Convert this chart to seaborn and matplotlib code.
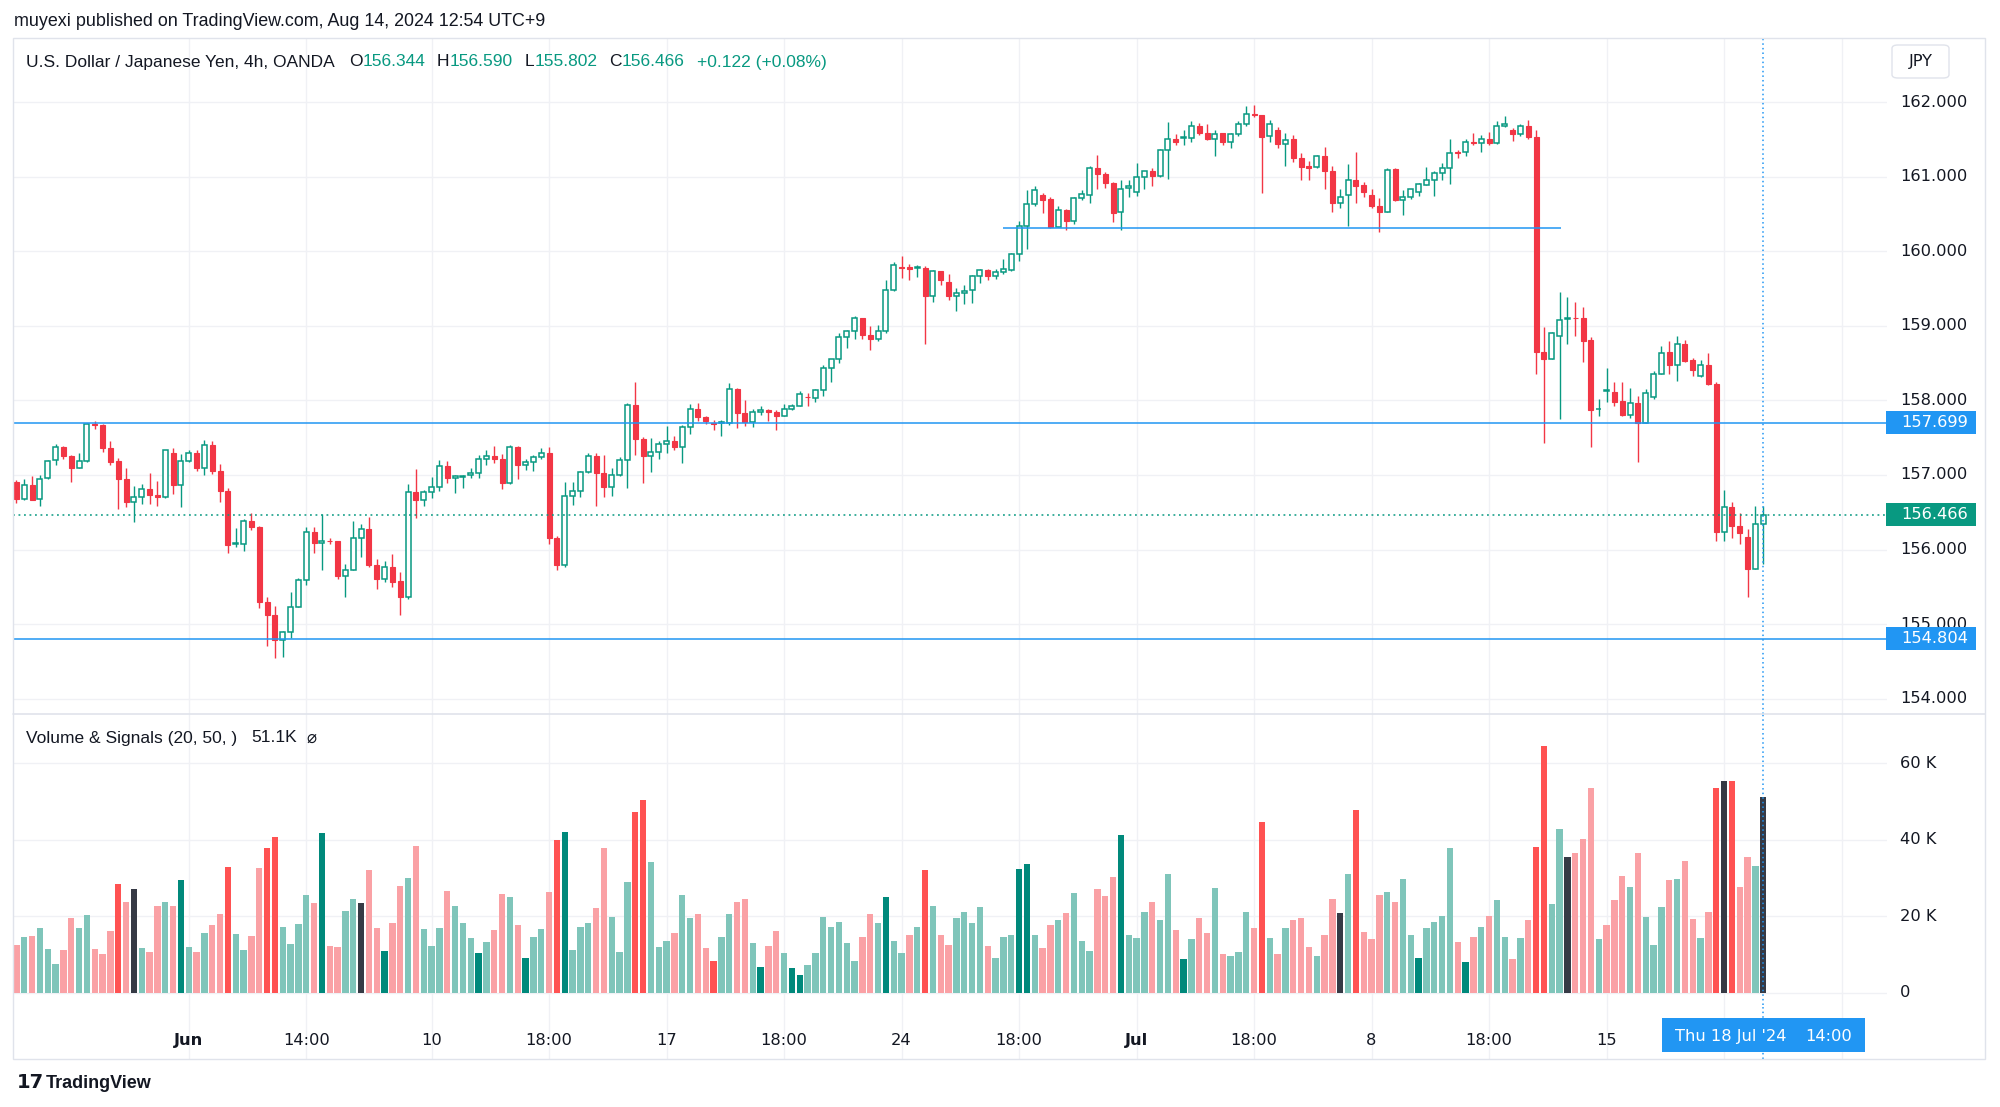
import numpy as np
import pandas as pd
import matplotlib
matplotlib.use("Agg")
import matplotlib.pyplot as plt
import seaborn as sns
from matplotlib.transforms import blended_transform_factory as blend
from matplotlib.patches import Rectangle, FancyBboxPatch
from matplotlib.lines import Line2D

# ------------------------------------------------------------------ data
opens = [
    156.90, 156.68, 156.86, 156.68, 156.96, 157.20, 157.37, 157.26, 157.10, 157.19,
    157.69, 157.67, 157.36, 157.19, 156.94, 156.64, 156.70, 156.81, 156.73, 156.70,
    157.29, 156.86, 157.19, 157.29, 157.09, 157.40, 157.05, 156.78, 156.07, 156.08,
    156.38, 156.30, 155.30, 155.12, 154.79, 154.89, 155.23, 155.59, 156.24, 156.09,
    156.12, 156.11, 155.64, 155.73, 156.15, 156.28, 155.79, 155.61, 155.77, 155.58,
    155.36, 156.77, 156.66, 156.77, 156.84, 157.12, 156.96, 156.97, 157.00, 157.02,
    157.21, 157.26, 157.22, 156.89, 157.37, 157.14, 157.18, 157.24, 157.30, 156.15,
    155.79, 156.72, 156.79, 157.04, 157.26, 157.02, 156.84, 157.00, 157.20, 157.94,
    157.48, 157.25, 157.31, 157.41, 157.46, 157.38, 157.65, 157.89, 157.78, 157.70,
    157.70, 157.70, 158.15, 157.83, 157.71, 157.85, 157.87, 157.85, 157.79, 157.88,
    157.93, 158.05, 158.03, 158.14, 158.44, 158.55, 158.85, 158.93, 159.10, 158.88,
    158.82, 158.93, 159.48, 159.79, 159.79, 159.77, 159.78, 159.40, 159.73, 159.59,
    159.40, 159.44, 159.48, 159.67, 159.75, 159.67, 159.72, 159.75, 159.96, 160.34,
    160.63, 160.75, 160.70, 160.33, 160.55, 160.41, 160.71, 160.75, 161.12, 161.04,
    160.92, 160.52, 160.85, 160.79, 160.99, 161.07, 161.01, 161.35, 161.51, 161.52,
    161.52, 161.68, 161.59, 161.51, 161.58, 161.46, 161.57, 161.71, 161.84, 161.83,
    161.54, 161.62, 161.44, 161.50, 161.25, 161.14, 161.13, 161.28, 161.07, 160.64,
    160.75, 160.95, 160.89, 160.75, 160.61, 160.53, 161.10, 160.69, 160.72, 160.80,
    160.89, 160.96, 161.05, 161.12, 161.33, 161.33, 161.47, 161.45, 161.51, 161.45,
    161.68, 161.63, 161.57, 161.68, 161.53, 158.65, 158.56, 158.86, 159.09, 159.11,
    159.10, 158.81, 157.88, 158.12, 158.11, 157.99, 157.81, 157.96, 157.70, 158.05,
    158.36, 158.65, 158.47, 158.76, 158.54, 158.33, 158.48, 158.22, 156.24, 156.57,
    156.31, 156.17, 155.74, 156.344,
]
highs = [
    156.93, 156.95, 156.99, 157.00, 157.20, 157.42, 157.39, 157.27, 157.29, 157.70,
    157.72, 157.68, 157.46, 157.23, 157.09, 156.85, 156.88, 157.03, 156.92, 157.34,
    157.36, 157.28, 157.34, 157.34, 157.47, 157.46, 157.15, 156.83, 156.29, 156.41,
    156.49, 156.31, 155.37, 155.24, 154.91, 155.43, 155.62, 156.30, 156.30, 156.48,
    156.15, 156.11, 155.81, 156.38, 156.34, 156.44, 155.87, 155.85, 155.94, 155.70,
    156.88, 157.08, 156.80, 156.97, 157.20, 157.19, 157.00, 157.00, 157.09, 157.27,
    157.34, 157.39, 157.28, 157.40, 157.39, 157.22, 157.27, 157.36, 157.37, 156.18,
    156.90, 156.91, 157.06, 157.30, 157.30, 157.27, 157.09, 157.24, 157.97, 158.25,
    157.51, 157.49, 157.45, 157.66, 157.52, 157.67, 157.95, 157.96, 157.79, 157.74,
    157.74, 158.23, 158.16, 158.00, 157.89, 157.93, 157.89, 157.87, 157.95, 157.95,
    158.13, 158.10, 158.15, 158.47, 158.56, 158.90, 158.94, 159.13, 159.11, 159.00,
    159.01, 159.62, 159.85, 159.93, 159.83, 159.81, 159.80, 159.75, 159.74, 159.70,
    159.50, 159.55, 159.68, 159.76, 159.76, 159.76, 159.90, 159.97, 160.40, 160.82,
    160.87, 160.78, 160.72, 160.60, 160.57, 160.73, 160.82, 161.14, 161.29, 161.06,
    160.93, 160.96, 160.95, 161.18, 161.08, 161.12, 161.37, 161.73, 161.57, 161.63,
    161.74, 161.72, 161.70, 161.63, 161.59, 161.59, 161.74, 161.95, 161.96, 161.83,
    161.76, 161.66, 161.58, 161.56, 161.31, 161.21, 161.29, 161.40, 161.14, 160.84,
    161.17, 161.33, 160.93, 160.83, 160.71, 161.11, 161.11, 160.82, 160.84, 160.92,
    161.13, 161.08, 161.18, 161.51, 161.36, 161.51, 161.59, 161.56, 161.60, 161.75,
    161.81, 161.65, 161.70, 161.76, 161.62, 158.98, 158.92, 159.45, 159.38, 159.32,
    159.25, 158.85, 158.02, 158.43, 158.24, 158.24, 158.17, 158.06, 158.15, 158.40,
    158.73, 158.79, 158.86, 158.81, 158.57, 158.54, 158.63, 158.24, 156.80, 156.64,
    156.49, 156.27, 156.58, 156.590,
]
lows = [
    156.63, 156.66, 156.66, 156.58, 156.95, 157.14, 157.21, 156.90, 157.09, 157.17,
    157.62, 157.31, 157.13, 156.54, 156.57, 156.37, 156.61, 156.61, 156.58, 156.69,
    156.75, 156.57, 157.18, 157.05, 157.00, 157.01, 156.64, 155.95, 156.04, 155.98,
    156.26, 155.22, 154.71, 154.55, 154.56, 154.81, 155.23, 155.53, 155.95, 155.73,
    156.08, 155.60, 155.36, 155.72, 155.90, 155.77, 155.47, 155.56, 155.50, 155.12,
    155.34, 156.43, 156.58, 156.69, 156.78, 156.89, 156.76, 156.82, 156.96, 156.96,
    157.14, 157.16, 156.81, 156.88, 156.94, 157.07, 157.06, 157.21, 156.07, 155.72,
    155.76, 156.60, 156.70, 157.02, 156.59, 156.70, 156.72, 156.98, 156.82, 157.27,
    156.89, 157.04, 157.22, 157.29, 157.34, 157.16, 157.55, 157.72, 157.68, 157.60,
    157.52, 157.67, 157.63, 157.66, 157.65, 157.80, 157.72, 157.60, 157.79, 157.87,
    157.93, 157.93, 157.98, 158.06, 158.24, 158.50, 158.70, 158.82, 158.82, 158.67,
    158.79, 158.90, 159.46, 159.64, 159.62, 159.65, 158.75, 159.32, 159.55, 159.34,
    159.20, 159.29, 159.30, 159.58, 159.61, 159.63, 159.70, 159.74, 159.87, 160.03,
    160.61, 160.51, 160.31, 160.32, 160.29, 160.37, 160.68, 160.64, 160.84, 160.85,
    160.39, 160.28, 160.72, 160.74, 160.84, 160.87, 161.00, 160.97, 161.42, 161.42,
    161.47, 161.56, 161.49, 161.28, 161.42, 161.39, 161.54, 161.68, 161.80, 160.78,
    161.47, 161.38, 161.14, 161.20, 160.96, 160.96, 161.11, 160.83, 160.53, 160.58,
    160.34, 160.64, 160.72, 160.58, 160.26, 160.53, 160.67, 160.49, 160.70, 160.74,
    160.89, 160.74, 160.96, 160.90, 161.25, 161.27, 161.42, 161.33, 161.43, 161.44,
    161.66, 161.48, 161.55, 161.51, 158.36, 157.43, 158.56, 157.75, 158.75, 158.86,
    158.51, 157.37, 157.79, 157.98, 157.92, 157.79, 157.76, 157.17, 157.70, 158.02,
    158.35, 158.36, 158.26, 158.52, 158.33, 158.31, 158.21, 156.11, 156.11, 156.15,
    156.07, 155.37, 155.74, 155.802,
]
closes = [
    156.68, 156.86, 156.66, 156.95, 157.19, 157.37, 157.26, 157.10, 157.19, 157.68,
    157.67, 157.36, 157.18, 156.94, 156.64, 156.70, 156.81, 156.73, 156.71, 157.33,
    156.86, 157.19, 157.29, 157.09, 157.40, 157.05, 156.78, 156.06, 156.09, 156.38,
    156.30, 155.30, 155.12, 154.79, 154.89, 155.23, 155.59, 156.24, 156.09, 156.11,
    156.11, 155.64, 155.72, 156.15, 156.28, 155.79, 155.61, 155.77, 155.57, 155.36,
    156.77, 156.66, 156.77, 156.84, 157.12, 156.96, 156.98, 156.99, 157.02, 157.21,
    157.26, 157.22, 156.89, 157.37, 157.14, 157.18, 157.24, 157.30, 156.15, 155.79,
    156.72, 156.79, 157.04, 157.26, 157.02, 156.84, 157.00, 157.20, 157.94, 157.48,
    157.25, 157.31, 157.41, 157.46, 157.38, 157.65, 157.89, 157.78, 157.72, 157.69,
    157.715, 158.15, 157.83, 157.71, 157.85, 157.87, 157.85, 157.79, 157.88, 157.93,
    158.08, 158.04, 158.14, 158.44, 158.55, 158.85, 158.93, 159.10, 158.88, 158.82,
    158.93, 159.48, 159.82, 159.78, 159.76, 159.79, 159.40, 159.73, 159.62, 159.40,
    159.44, 159.47, 159.67, 159.75, 159.67, 159.72, 159.76, 159.96, 160.34, 160.63,
    160.82, 160.69, 160.32, 160.55, 160.41, 160.71, 160.77, 161.12, 161.04, 160.92,
    160.51, 160.84, 160.87, 160.99, 161.07, 161.01, 161.35, 161.50, 161.47, 161.535,
    161.68, 161.58, 161.50, 161.57, 161.46, 161.57, 161.71, 161.84, 161.82, 161.53,
    161.70, 161.44, 161.49, 161.25, 161.13, 161.12, 161.27, 161.07, 160.64, 160.73,
    160.95, 160.88, 160.80, 160.61, 160.53, 161.09, 160.69, 160.72, 160.83, 160.90,
    160.96, 161.05, 161.12, 161.32, 161.32, 161.47, 161.45, 161.50, 161.45, 161.68,
    161.70, 161.57, 161.68, 161.53, 158.65, 158.56, 158.90, 159.08, 159.10, 159.10,
    158.80, 157.87, 157.89, 158.14, 157.98, 157.81, 157.96, 157.70, 158.10, 158.36,
    158.63, 158.47, 158.76, 158.53, 158.41, 158.48, 158.22, 156.24, 156.57, 156.31,
    156.22, 155.74, 156.344, 156.466,
]
volume_k = [
    12.4, 14.6, 14.8, 16.8, 11.4, 7.5, 11.1, 19.6, 17.0, 20.3,
    11.4, 10.1, 16.1, 28.5, 23.6, 27.0, 11.8, 10.7, 22.7, 23.6,
    22.7, 29.4, 12.0, 10.7, 15.5, 17.7, 20.5, 32.9, 15.3, 11.3,
    14.9, 32.6, 37.7, 40.6, 17.3, 12.7, 17.9, 25.5, 23.4, 41.6,
    12.2, 12.0, 21.3, 24.6, 23.5, 32.0, 16.8, 10.9, 18.3, 27.8,
    29.9, 38.4, 16.6, 12.3, 16.8, 26.5, 22.7, 18.3, 14.2, 10.5,
    13.3, 16.3, 25.7, 25.1, 17.7, 9.1, 14.5, 16.6, 26.3, 39.9,
    41.9, 11.1, 17.1, 18.1, 22.2, 37.7, 19.7, 10.7, 29.0, 47.1,
    50.4, 34.2, 12.0, 13.5, 15.7, 25.5, 19.4, 20.7, 11.7, 8.3,
    14.5, 20.7, 23.7, 24.5, 13.0, 6.8, 12.3, 16.1, 10.5, 6.6,
    4.6, 7.2, 10.3, 19.7, 17.1, 18.4, 13.0, 8.3, 14.5, 20.5,
    18.3, 24.9, 13.5, 10.5, 15.1, 17.3, 32.1, 22.7, 15.1, 12.5,
    19.6, 21.0, 18.3, 22.5, 12.2, 9.2, 14.5, 15.1, 32.3, 33.6,
    15.0, 11.8, 17.7, 19.0, 20.9, 26.0, 13.5, 10.9, 27.0, 25.3,
    30.3, 41.1, 15.0, 14.2, 21.0, 23.8, 18.9, 31.1, 16.3, 8.8,
    14.0, 19.6, 15.6, 27.3, 10.1, 9.7, 10.7, 21.2, 16.8, 44.7,
    14.3, 10.1, 16.8, 19.0, 19.5, 12.0, 9.6, 15.1, 24.5, 20.8,
    30.9, 47.7, 15.8, 14.0, 25.5, 26.4, 23.8, 29.7, 15.0, 9.1,
    16.8, 18.4, 20.1, 37.9, 13.3, 8.1, 14.5, 17.3, 20.1, 24.3,
    14.5, 8.8, 14.3, 18.9, 38.0, 64.5, 23.3, 42.8, 35.4, 36.5,
    40.1, 53.4, 14.0, 17.7, 24.2, 30.4, 27.5, 36.5, 19.7, 12.4,
    22.5, 29.4, 29.7, 34.5, 19.2, 14.2, 21.0, 53.4, 55.3, 55.4,
    27.7, 35.4, 33.0, 51.1,
]
# d = down, u = up, D = strong down, U = strong up, k = signal bar
volume_signal_rows = [
    "duduuudduu", "dddDdkuddu", "dUududdDuu", "ddDDuuuudU", "dduukddUdd",
    "uduuuduuuU", "uddudUuudD", "UuuudduuuD", "DuuuduuddD", "uudduUdduU",
    "Uuuuuuuudd", "uUuuduDudd", "uuuuduuuUU", "udduduuudd", "dUuuuduudU",
    "udduduuudD", "ududdduddk", "uDddduduuU", "uuuudUdudu", "ududDDuukd",
    "dduddduduu", "ududdudDkD", "dduk",
]
volume_signal = list("".join(volume_signal_rows))

price_ticks = [154, 155, 156, 157, 158, 159, 160, 161, 162]
volume_ticks = [0, 20, 40, 60]
volume_tick_labels = ["0", "20 K", "40 K", "60 K"]
time_tick_idx = [22, 37, 53, 68, 83, 98, 113, 128, 143, 158, 173, 188, 203]
time_tick_labels = ["Jun", "14:00", "10", "18:00", "17", "18:00", "24",
                    "18:00", "Jul", "18:00", "8", "18:00", "15"]
extra_grid_idx = [218, 233]
level_lines = [157.699, 154.804]
level_labels = ["157.699", "154.804"]
segment_level = 160.316
segment_span = [126.0, 197.15]
last_price = 156.466
last_label = "156.466"
last_bar = 223

# ------------------------------------------------------------------ style
sns.set_theme(style="white")
plt.rcParams["font.family"] = ["DejaVu Sans"]

UP = "#089981"
DN = "#F23645"
BLUE = "#2196F3"
TXT = "#131722"
GRID = "#F0F1F5"
FRAME = "#E0E3EB"
VOL_COLORS = {"d": "#FAA1A5", "u": "#7FC5BA", "D": "#FF5252", "U": "#00897B", "k": "#363A45"}
HEAD_FONT = "Liberation Sans"

W, H = 2000, 1107
fig = plt.figure(figsize=(20, 11.07), dpi=100)
fig.patch.set_facecolor("white")

PL, PR = 13, 1887          # plot area left/right (px)
PT, PSEP, VB, TB = 38, 714, 1005, 1059

ax_p = fig.add_axes([PL / W, 1 - PSEP / H, (PR - PL) / W, (PSEP - PT) / H])
ax_v = fig.add_axes([PL / W, 1 - VB / H, (PR - PL) / W, (VB - PSEP) / H], sharex=ax_p)
ax_t = fig.add_axes([PL / W, 1 - TB / H, (PR - PL) / W, (TB - VB) / H], sharex=ax_p)

n = len(closes)
x = np.arange(n)
o = np.array(opens); c = np.array(closes); h = np.array(highs); l = np.array(lows)
up = c >= o

# grid
for ax in (ax_p, ax_v, ax_t):
    for gi in time_tick_idx + extra_grid_idx:
        ax.axvline(gi, color=GRID, lw=1.0, zorder=0)
for p in price_ticks:
    ax_p.axhline(p, color=GRID, lw=1.0, zorder=0)
for v in volume_ticks:
    ax_v.axhline(v, color=GRID, lw=1.0, zorder=0)

# candles
ax_p.vlines(x, l, h, colors=np.where(up, UP, DN), linewidth=1.0, zorder=3)
ax_p.bar(x[up], (c - o)[up], bottom=o[up], width=0.64, facecolor="white",
         edgecolor=UP, linewidth=1.1, zorder=4)
ax_p.bar(x[~up], (c - o)[~up], bottom=o[~up], width=0.64, facecolor=DN,
         edgecolor=DN, linewidth=0.8, zorder=4)

# level lines
for lv in level_lines:
    ax_p.axhline(lv, color=BLUE, lw=1.1, zorder=5)
ax_p.hlines(segment_level, segment_span[0], segment_span[1], color=BLUE, lw=1.1, zorder=5)
ax_p.axhline(last_price, color=UP, lw=1.1, ls=(0, (1.2, 2.4)), zorder=5)

# volume (seaborn)
vdf = pd.DataFrame({"bar": x, "volume": volume_k, "signal": volume_signal})
sns.barplot(data=vdf, x="bar", y="volume", hue="signal", palette=VOL_COLORS,
            native_scale=True, dodge=False, width=0.8, errorbar=None,
            saturation=1, legend=False, linewidth=0, ax=ax_v, zorder=3)

# crosshair
for ax in (ax_p, ax_v, ax_t):
    ax.axvline(last_bar, color=BLUE, lw=1.1, ls=(0, (1, 2)), zorder=8)

# limits
ax_p.set_xlim(-0.43, 238.8)
ax_p.set_ylim(153.796, 162.858)
ax_v.set_ylim(-3.19, 72.8)
ax_t.set_ylim(0, 1)
for ax in (ax_p, ax_v, ax_t):
    ax.set_axis_off()

# right price axis labels
tr_p = blend(fig.transFigure, ax_p.transData)
for p in price_ticks:
    ax_p.text(1900 / W, p, f"{p:.3f}", transform=tr_p, ha="left", va="center",
              fontsize=11.7, color=TXT, clip_on=False)
tr_v = blend(fig.transFigure, ax_v.transData)
for v, lab in zip(volume_ticks, volume_tick_labels):
    ax_v.text(1900 / W, v, lab, transform=tr_v, ha="left", va="center",
              fontsize=11.7, color=TXT, clip_on=False)

# price labels on the axis
dpp = (162.858 - 153.796) / (PSEP - PT)
for lv, lab, col in zip(level_lines + [last_price], level_labels + [last_label], [BLUE, BLUE, UP]):
    ax_p.add_patch(Rectangle((1886 / W, lv - 11.5 * dpp), 90 / W, 23 * dpp,
                             transform=tr_p, facecolor=col, edgecolor="none",
                             clip_on=False, zorder=10))
    ax_p.text(1901 / W, lv, lab, transform=tr_p, ha="left", va="center",
              fontsize=11.7, color="white", clip_on=False, zorder=11)

# time axis labels
tr_t = blend(ax_t.transData, ax_t.transAxes)
for gi, lab in zip(time_tick_idx, time_tick_labels):
    ax_t.text(gi, 0.35, lab, transform=tr_t, ha="center", va="center",
              fontsize=11.7, color=TXT,
              fontweight="bold" if lab in ("Jun", "Jul") else "normal")
ax_t.add_patch(Rectangle((last_bar - 12.95, 0.13), 25.9, 0.63, transform=tr_t,
                         facecolor=BLUE, edgecolor="none", zorder=10, clip_on=False))
tr_tf = blend(fig.transFigure, ax_t.transAxes)
ax_t.text(1675 / W, 0.42, "Thu 18 Jul '24", transform=tr_tf, ha="left", va="center",
          fontsize=11.7, color="white", zorder=11)
ax_t.text(1852 / W, 0.42, "14:00", transform=tr_tf, ha="right", va="center",
          fontsize=11.7, color="white", zorder=11)

# frame and separators
fig.add_artist(Rectangle((13 / W, 1 - TB / H), (1985 - 13) / W, (TB - PT) / H,
                         transform=fig.transFigure, fill=False, edgecolor=FRAME, lw=1.0))
fig.add_artist(Line2D([13 / W, 1985 / W], [1 - PSEP / H] * 2, transform=fig.transFigure,
                      color=FRAME, lw=1.2))

# JPY box
fig.add_artist(FancyBboxPatch((1892 / W, 1 - 78 / H), 57 / W, 33 / H,
                              boxstyle="round,pad=0,rounding_size=0.003",
                              transform=fig.transFigure, facecolor="white",
                              edgecolor=FRAME, lw=1.0))
fig.text(1920.5 / W, 1 - 61.5 / H, "JPY", ha="center", va="center", fontsize=11.7, color=TXT)

# header texts
renderer = fig.canvas.get_renderer()


def text_runs(x_px, y_px, runs, size, family):
    xx = x_px
    for s, col, gap in runs:
        t = fig.text(xx / W, 1 - y_px / H, s, color=col, fontsize=size, family=family,
                     ha="left", va="center")
        xx += t.get_window_extent(renderer=renderer).width + gap


fig.text(14 / W, 1 - 22 / H, "muyexi published on TradingView.com, Aug 14, 2024 12:54 UTC+9",
         fontsize=12.9, family=HEAD_FONT, color=TXT, ha="left", va="center")
text_runs(26, 62, [
    ("U.S. Dollar / Japanese Yen, 4h, OANDA", TXT, 14),
    ("O", TXT, 0), ("156.344", UP, 12),
    ("H", TXT, 0), ("156.590", UP, 12),
    ("L", TXT, 0), ("155.802", UP, 12),
    ("C", TXT, 0), ("156.466", UP, 12),
    ("+0.122 (+0.08%)", UP, 0),
], 12.5, HEAD_FONT)
text_runs(26, 738, [
    ("Volume & Signals (20, 50, )", TXT, 14),
    ("51.1K", TXT, 12),
], 12.5, HEAD_FONT)
fig.text(306 / W, 1 - 738 / H, "\u2300", fontsize=12, color=TXT, ha="left", va="center",
         family="DejaVu Sans")

# logo
fig.text(17 / W, 1 - 1083 / H, "17", fontsize=14, fontweight="heavy", color=TXT,
         ha="left", va="center", family="DejaVu Sans")
fig.text(46 / W, 1 - 1084 / H, "TradingView", fontsize=13, fontweight="bold", color=TXT,
         ha="left", va="center", family=HEAD_FONT)

fig.savefig("out.png", dpi=100, facecolor="white")
